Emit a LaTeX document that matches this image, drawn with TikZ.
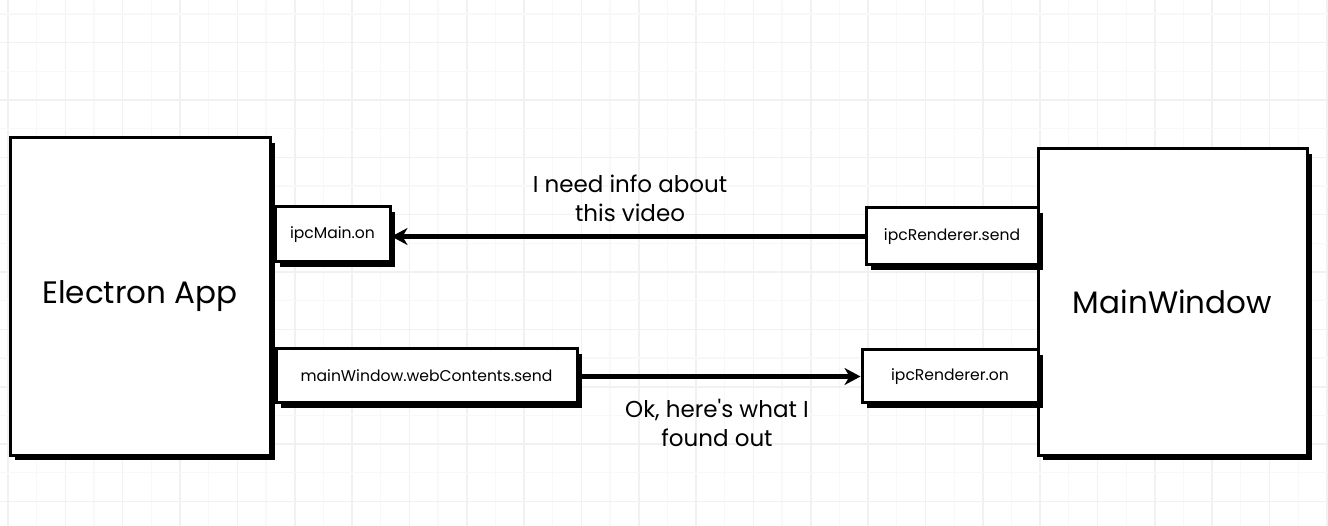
\documentclass[tikz,border=0pt]{standalone}
\usepackage{fontspec}
\setmainfont{Poppins}
\usetikzlibrary{arrows.meta,shadows}
\definecolor{gridminor}{HTML}{F8F8F8}
\definecolor{gridmajor}{HTML}{F1F1F1}
\tikzset{
  box/.style={draw=black, line width=3pt, fill=white, inner sep=0pt,
    drop shadow={shadow xshift=5pt, shadow yshift=-5pt, opacity=1, fill=black}},
  bigbox/.style={box, font=\fontsize{31}{35}\selectfont},
  smallbox/.style={box, font=\fontsize{15.6}{19}\selectfont},
  msg/.style={align=center, font=\fontsize{23}{29}\selectfont, inner sep=0pt},
  link/.style={line width=4.8pt, -{Stealth[length=16pt,width=17pt,inset=5pt]}}
}
\begin{document}
\begin{tikzpicture}[x=1pt,y=-1pt]
\useasboundingbox (0,0) rectangle (1328,526);
\fill[white] (0,0) rectangle (1328,526);
% grid
\foreach \k in {0,...,46} {
  \pgfmathsetmacro{\gx}{8+28.67*\k}
  \ifodd\k
    \draw[gridminor, line width=1.2pt] (\gx,0) -- (\gx,526);
  \else
    \draw[gridmajor, line width=1.6pt] (\gx,0) -- (\gx,526);
  \fi
}
\foreach \k in {0,...,18} {
  \pgfmathsetmacro{\gy}{14+28.67*\k}
  \ifodd\k
    \draw[gridmajor, line width=1.6pt] (0,\gy) -- (1328,\gy);
  \else
    \draw[gridminor, line width=1.2pt] (0,\gy) -- (1328,\gy);
  \fi
}
% big boxes
\node[bigbox, minimum width=260pt, minimum height=317pt] (electron) at (140,296.5) {Electron App};
\node[bigbox, minimum width=269pt, minimum height=306pt] (mainwin) at (1172.5,302) {MainWindow};
% small boxes
\node[smallbox, minimum width=115pt, minimum height=55pt] (ipcmain) at (332.5,234.5) {ipcMain.on};
\node[smallbox, minimum width=172pt, minimum height=57pt] (rsend) at (952,236.5) {ipcRenderer.send};
\node[smallbox, minimum width=301pt, minimum height=54pt] (wcsend) at (426.5,376) {mainWindow.webContents.send};
\node[smallbox, minimum width=176pt, minimum height=53pt] (ron) at (950,376.5) {ipcRenderer.on};
% connectors
\draw[link] (rsend.west) -- (ipcmain.east |- rsend.west);
\draw[link] (wcsend.east |- ron.west) -- (ron.west);
% labels
\node[msg] (ask) at (630,198) {I need info about\\this video};
\node[msg] (reply) at (717,423) {Ok, here\textquotesingle s what I\\found out};
\end{tikzpicture}
\end{document}
